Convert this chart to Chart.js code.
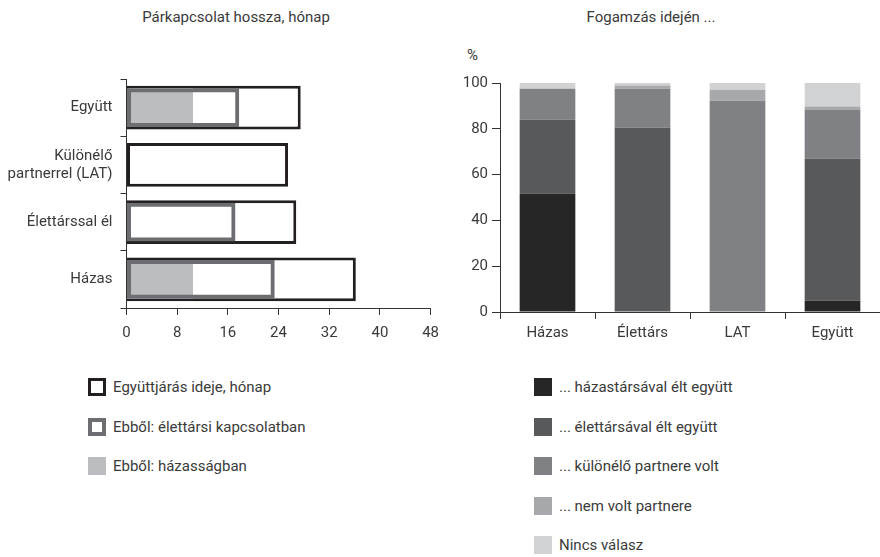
<!DOCTYPE html>
<html lang="hu">
<head>
<meta charset="utf-8">
<title>Párkapcsolat hossza és fogamzás</title>
<script src="https://cdn.jsdelivr.net/npm/chart.js@4/dist/chart.umd.min.js"></script>
<style>
  html, body { margin: 0; padding: 0; background: #fff; }
  body { width: 880px; height: 557px; position: relative; overflow: hidden;
         font-family: Roboto, 'Open Sans', sans-serif; font-weight: 400; color: #3a3a3a; font-size: 15px; }
  .title { position: absolute; top: 8px; white-space: nowrap; transform: translateX(-50%); font-size: 15px; }
  .unit { position: absolute; left: 467px; top: 46px; font-size: 15px; }
  .wrap { position: absolute; top: 0; height: 345px; }
  .legend { position: absolute; margin: 0; padding: 0; list-style: none; }
  .legend li { position: absolute; left: 0; white-space: nowrap; height: 20px; line-height: 20px; }
  .legend .box { position: absolute; left: 0; top: 1px; width: 18px; height: 18px; box-sizing: border-box; }
  .legend .txt { position: absolute; top: 0; left: 25px; }
</style>
</head>
<body>
<div class="title" style="left:236px">Párkapcsolat hossza, hónap</div>
<div class="title" style="left:651px">Fogamzás idején ...</div>
<div class="unit">%</div>

<div class="wrap" style="left:0; width:448px"><canvas id="durationChart"></canvas></div>
<div class="wrap" style="left:440px; width:440px"><canvas id="conceptionChart"></canvas></div>

<ul class="legend" id="durationLegend" style="left:88px; top:377px"></ul>
<ul class="legend" id="conceptionLegend" style="left:534px; top:377px"></ul>

<script>
// --- Párkapcsolat hossza (months) ---
const durationCategories = ['Együtt', ['Különélő', 'partnerrel (LAT)'], 'Élettárssal él', 'Házas'];
const durationTotal = [27.5, 25.5, 26.8, 36.2];      // Együttjárás ideje, hónap
const durationCohabiting = [17.8, null, 17.2, 23.4]; // Ebből: élettársi kapcsolatban
const durationMarried = [10.5, null, null, 10.5];    // Ebből: házasságban
const durationTicks = [0, 8, 16, 24, 32, 40, 48];

// --- Fogamzás idején ... (%) ---
const conceptionCategories = ['Házas', 'Élettárs', 'LAT', 'Együtt'];
const withSpouse = [51.7, 0, 0, 4.9];
const withPartner = [32.3, 80.5, 0, 62.1];
const livingApart = [13.5, 17.0, 92.3, 21.4];
const noPartner = [0, 1.4, 4.8, 1.3];
const noAnswer = [2.5, 1.1, 2.9, 10.3];
const percentTicks = [0, 20, 40, 60, 80, 100];

Chart.defaults.font.family = 'Roboto, "Open Sans", sans-serif';
Chart.defaults.font.size = 15;
Chart.defaults.font.weight = 400;
Chart.defaults.color = '#3a3a3a';
Chart.defaults.animation = false;

const axisColor = '#333333';

const durationDatasets = [
  {
    label: 'Együttjárás ideje, hónap',
    data: durationTotal,
    backgroundColor: '#ffffff',
    borderColor: '#231f20',
    borderWidth: 3,
    barPercentage: 0.76,
    order: 2
  },
  {
    label: 'Ebből: házasságban',
    data: durationMarried,
    backgroundColor: '#bcbdc0',
    borderWidth: 0,
    barPercentage: 0.68,
    order: 1
  },
  {
    label: 'Ebből: élettársi kapcsolatban',
    data: durationCohabiting,
    backgroundColor: 'rgba(0,0,0,0)',
    borderColor: '#6d6e71',
    borderWidth: 4,
    barPercentage: 0.68,
    order: 0
  }
].map(ds => Object.assign(ds, { grouped: false, categoryPercentage: 1, borderSkipped: false }));

new Chart(document.getElementById('durationChart'), {
  type: 'bar',
  data: { labels: durationCategories, datasets: durationDatasets },
  options: {
    indexAxis: 'y',
    responsive: true,
    maintainAspectRatio: false,
    layout: { padding: { top: 79, right: 0, left: 0, bottom: 0 } },
    plugins: { legend: { display: false }, tooltip: { enabled: false } },
    scales: {
      x: {
        min: 0,
        max: 48,
        afterBuildTicks: scale => { scale.ticks = durationTicks.map(v => ({ value: v })); },
        grid: { drawOnChartArea: false, tickLength: 7, color: axisColor },
        border: { color: axisColor },
        ticks: { padding: 9, maxRotation: 0 },
        afterFit: scale => { scale.height = 37; }
      },
      y: {
        grid: { drawOnChartArea: false, tickLength: 6, color: axisColor, offset: true },
        border: { color: axisColor },
        ticks: { padding: 8, crossAlign: 'near' },
        afterFit: scale => { scale.width = 126.5; }
      }
    }
  }
});

const conceptionDatasets = [
  { label: '... házastársával élt együtt', data: withSpouse, backgroundColor: '#262626' },
  { label: '... élettársával élt együtt', data: withPartner, backgroundColor: '#58595b' },
  { label: '... különélő partnere volt', data: livingApart, backgroundColor: '#808184' },
  { label: '... nem volt partnere', data: noPartner, backgroundColor: '#a7a8ab' },
  { label: 'Nincs válasz', data: noAnswer, backgroundColor: '#d1d2d4' }
].map(ds => Object.assign(ds, { barPercentage: 0.586, categoryPercentage: 1, borderWidth: 0 }));

new Chart(document.getElementById('conceptionChart'), {
  type: 'bar',
  data: { labels: conceptionCategories, datasets: conceptionDatasets },
  options: {
    responsive: true,
    maintainAspectRatio: false,
    layout: { padding: { top: 83, right: 0, left: 0, bottom: 0 } },
    plugins: { legend: { display: false }, tooltip: { enabled: false } },
    scales: {
      x: {
        stacked: true,
        grid: { drawOnChartArea: false, tickLength: 7, color: axisColor, offset: true },
        border: { color: axisColor },
        ticks: { padding: 5, maxRotation: 0 },
        afterFit: scale => { scale.height = 33; }
      },
      y: {
        stacked: true,
        min: 0,
        max: 100,
        afterBuildTicks: scale => { scale.ticks = percentTicks.map(v => ({ value: v })); },
        grid: { drawOnChartArea: false, tickLength: 8, color: axisColor },
        border: { color: axisColor },
        ticks: { padding: 4 },
        afterFit: scale => { scale.width = 60; }
      }
    }
  }
});

// HTML legends, one item per row, built from the datasets
const buildLegend = (id, items, spacing) => {
  const ul = document.getElementById(id);
  items.forEach((ds, i) => {
    const li = document.createElement('li');
    li.style.top = (i * spacing) + 'px';
    const box = document.createElement('span');
    box.className = 'box';
    box.style.background = ds.backgroundColor === 'rgba(0,0,0,0)' ? '#ffffff' : ds.backgroundColor;
    if (ds.borderWidth) box.style.border = ds.borderWidth + 'px solid ' + ds.borderColor;
    const txt = document.createElement('span');
    txt.className = 'txt';
    txt.textContent = ds.label;
    li.appendChild(box);
    li.appendChild(txt);
    ul.appendChild(li);
  });
};

buildLegend('durationLegend', [durationDatasets[0], durationDatasets[2], durationDatasets[1]], 39.5);
buildLegend('conceptionLegend', conceptionDatasets, 39.5);
</script>
</body>
</html>
